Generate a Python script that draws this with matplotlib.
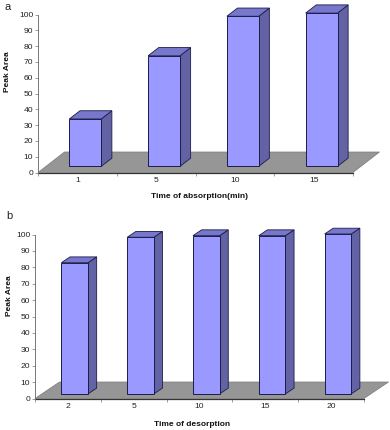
import matplotlib
matplotlib.use('Agg')
import matplotlib.pyplot as plt
from matplotlib.patches import Polygon

plt.rcParams['font.family'] = ['Liberation Sans', 'DejaVu Sans']

# Data
absorption_times = ['1', '5', '10', '15']
absorption_area = [30, 70, 95, 97]
desorption_times = ['2', '5', '10', '15', '20']
desorption_area = [80, 95.5, 96.5, 96.5, 97.5]
y_ticks = list(range(0, 101, 10))

W, H = 390, 430
FRONT = '#9999ff'
TOP = '#7777cc'
SIDE = '#6262a4'
FLOOR = '#969696'
EDGE = '#1c1c48'


def draw_panel(box, labels, values, xlabel, depth_px, bar_depth, xlabel_pos, ylabel_pos):
    # box is left, top, right, bottom of the front plane in pixels
    left, top, right, bottom = box
    ax = fig.add_axes([left / W, 1 - bottom / H, (right - left) / W, (bottom - top) / H])
    n = len(labels)
    ax.set_xlim(0, n)
    ax.set_ylim(0, 100)
    ax.patch.set_alpha(0)

    # depth offset in data units
    ddx = depth_px[0] / ((right - left) / n)
    ddy = depth_px[1] / ((bottom - top) / 100)

    def pt(x, y, d):
        return (x + ddx * d, y + ddy * d)

    floor = [pt(0, 0, 0), pt(n, 0, 0), pt(n, 0, 1), pt(0, 0, 1)]
    ax.add_patch(Polygon(floor, closed=True, fc=FLOOR, ec='#7a7a7a', lw=0.5, clip_on=False, zorder=1))

    d0, d1 = bar_depth
    w = 0.405
    for i, v in enumerate(values):
        x0 = i + 0.5 - w / 2
        x1 = x0 + w
        side = [pt(x1, 0, d0), pt(x1, 0, d1), pt(x1, v, d1), pt(x1, v, d0)]
        roof = [pt(x0, v, d0), pt(x1, v, d0), pt(x1, v, d1), pt(x0, v, d1)]
        front = [pt(x0, 0, d0), pt(x1, 0, d0), pt(x1, v, d0), pt(x0, v, d0)]
        ax.add_patch(Polygon(side, closed=True, fc=SIDE, ec=EDGE, lw=0.6, clip_on=False, zorder=3))
        ax.add_patch(Polygon(roof, closed=True, fc=TOP, ec=EDGE, lw=0.6, clip_on=False, zorder=3))
        ax.add_patch(Polygon(front, closed=True, fc=FRONT, ec=EDGE, lw=0.7, clip_on=False, zorder=4))

    for s in ['top', 'right']:
        ax.spines[s].set_visible(False)
    ax.spines['left'].set_color('#777777')
    ax.spines['left'].set_linewidth(0.7)
    ax.spines['bottom'].set_color('#333333')
    ax.spines['bottom'].set_linewidth(0.9)
    ax.spines['bottom'].set_zorder(2)

    ax.set_yticks(y_ticks)
    ax.set_xticks(range(n + 1))
    ax.set_xticklabels([])
    ax.set_xticks([i + 0.5 for i in range(n)], labels=labels, minor=True)
    ax.tick_params(axis='x', which='major', length=2, width=0.5, color='#777777')
    ax.tick_params(axis='x', which='minor', length=0, pad=3.5, labelsize=6.1, labelcolor='#222222')
    ax.tick_params(axis='y', length=2, width=0.5, color='#777777', pad=1.5, labelsize=6.1, labelcolor='#222222')

    fig.text(xlabel_pos[0] / W, 1 - xlabel_pos[1] / H, xlabel, fontsize=6, fontweight='bold',
             ha='center', va='center', color='#111111')
    fig.text(ylabel_pos[0] / W, 1 - ylabel_pos[1] / H, 'Peak Area', fontsize=6, fontweight='bold',
             rotation=90, ha='center', va='center', color='#111111')


fig = plt.figure(figsize=(W / 100, H / 100), dpi=100)

draw_panel((38, 14.5, 353, 172.5), absorption_times, absorption_area, 'Time of absorption(min)',
           (26.5, 20.5), (0.3, 0.7), (200, 197), (8, 72))
draw_panel((35, 234.5, 364, 398.5), desorption_times, desorption_area, 'Time of desorption',
           (24.5, 16.5), (0.28, 0.63), (192, 424), (10, 296))

fig.text(8 / W, 1 - 7 / H, 'a', fontsize=8, ha='center', va='center', color='#222222')
fig.text(9 / W, 1 - 216 / H, 'b', fontsize=8, ha='center', va='center', color='#222222')

fig.savefig('out.png', dpi=100)
